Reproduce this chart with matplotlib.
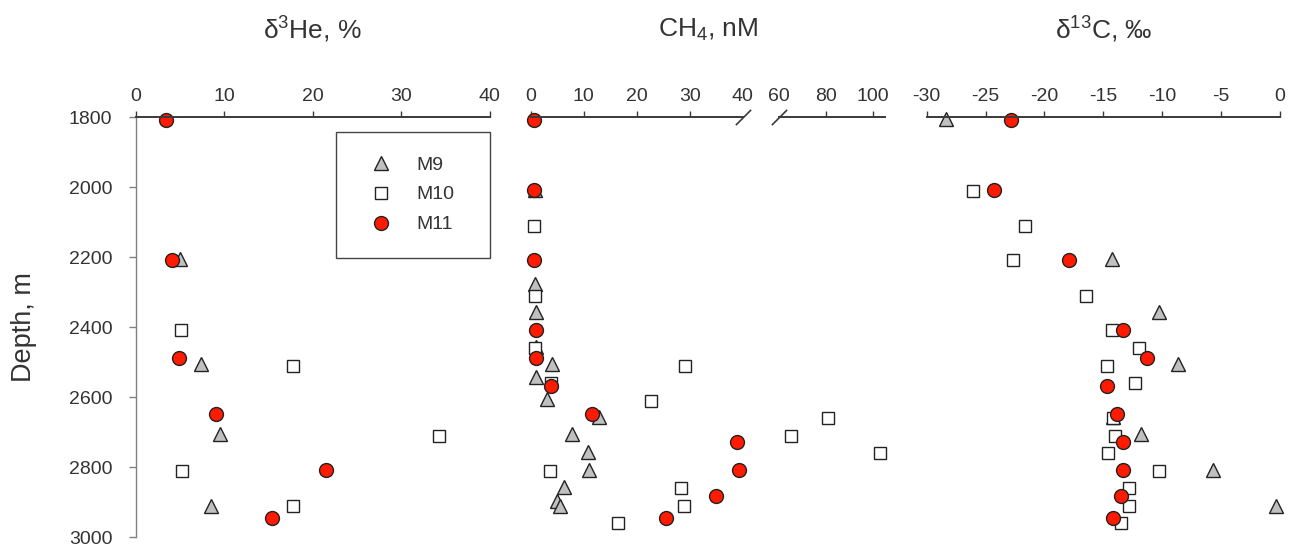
import numpy as np
import matplotlib
matplotlib.use('Agg')
import matplotlib.pyplot as plt

plt.rcParams['font.family'] = ['Liberation Sans', 'DejaVu Sans']
plt.rcParams['mathtext.fontset'] = 'custom'
plt.rcParams['mathtext.rm'] = 'Liberation Sans'
plt.rcParams['mathtext.it'] = 'Liberation Sans:italic'
plt.rcParams['mathtext.bf'] = 'Liberation Sans:bold'
plt.rcParams['axes.unicode_minus'] = False

nan = np.nan

# M9 cruise
m9_depth = [1805, 2008, 2205, 2276, 2355, 2455, 2505, 2541, 2606, 2655, 2705, 2755, 2808, 2857, 2895, 2910]
m9_he = [nan, nan, 5.0, nan, nan, nan, 7.35, nan, nan, nan, 9.5, nan, nan, nan, nan, 8.5]
m9_ch4 = [nan, 0.7, nan, 0.8, 0.9, 0.9, 4.0, 0.9, 3.0, 12.85, 7.7, 10.8, 11.0, 6.3, 5.0, 5.5]
m9_c13 = [-28.4, nan, -14.3, nan, -10.25, nan, -8.7, nan, nan, -14.2, -11.8, nan, -5.67, nan, nan, -0.35]

# M10 cruise
m10_depth = [2010, 2110, 2208, 2310, 2409, 2458, 2510, 2560, 2610, 2658, 2710, 2760, 2810, 2860, 2910, 2960]
m10_he = [nan, nan, nan, nan, 5.1, nan, 17.7, nan, nan, nan, 34.3, nan, 5.2, nan, 17.7, nan]
m10_ch4 = [nan, 0.6, nan, 0.75, nan, 0.75, 29.05, 3.7, 22.7, 80.85, 65.4, 103.1, 3.5, 28.4, 28.9, 16.4]
m10_c13 = [-26.1, -21.65, -22.7, -16.5, -14.25, -11.95, -14.7, -12.35, nan, -14.2, -14.0, -14.6, -10.3, -12.8, -12.8, -13.5]

# M11 cruise
m11_depth = [1808, 2008, 2208, 2408, 2489, 2568, 2648, 2728, 2808, 2882, 2946]
m11_he = [3.36, nan, 4.1, nan, 4.86, nan, 9.05, nan, 21.45, nan, 15.4]
m11_ch4 = [0.62, 0.62, 0.62, 0.9, 0.9, 3.8, 11.5, 38.9, 39.3, 35.0, 25.5]
m11_c13 = [-22.8, -24.3, -17.95, -13.3, -11.3, -14.7, -13.8, -13.35, -13.3, -13.5, -14.2]

depth_ticks = [1800, 2000, 2200, 2400, 2600, 2800, 3000]

styles = {
    'M9': dict(marker='^', ms=9.5, mfc='#c0c0c0'),
    'M10': dict(marker='s', ms=9, mfc='white'),
    'M11': dict(marker='o', ms=10, mfc='#ff1a00'),
}
series = [
    ('M9', m9_depth, m9_he, m9_ch4, m9_c13),
    ('M10', m10_depth, m10_he, m10_ch4, m10_c13),
    ('M11', m11_depth, m11_he, m11_ch4, m11_c13),
]

W, H = 1293, 547
fig = plt.figure(figsize=(W / 100, H / 100), dpi=100)

top_px, bot_px = 117.3, 537.3
bottom = 1 - bot_px / H
height = (bot_px - top_px) / H


def make_ax(x0, x1):
    return fig.add_axes([x0 / W, bottom, (x1 - x0) / W, height])


ax1 = make_ax(136, 489.7)
ax2a = make_ax(531, 742.5)
ax2b = make_ax(778.7, 884.5)
ax3 = make_ax(926.7, 1280)

dark = '#3a3a3a'
for ax in [ax1, ax2a, ax2b, ax3]:
    ax.set_ylim(3000, 1800)
    ax.xaxis.tick_top()
    for s in ['right', 'bottom', 'left']:
        ax.spines[s].set_visible(False)
    ax.spines['top'].set_color(dark)
    ax.spines['top'].set_linewidth(1.4)
    ax.tick_params(axis='x', direction='out', length=4.5, width=1, color=dark,
                   labelsize=14, labelcolor='#333333', pad=4.5)
    ax.set_yticks([])
    ax.patch.set_alpha(0)

ax1.spines['left'].set_visible(True)
ax1.spines['left'].set_color('#808080')
ax1.spines['left'].set_linewidth(1.0)
ax1.set_yticks(depth_ticks)
ax1.tick_params(axis='y', direction='out', length=5, width=1, color='#808080',
                labelsize=14, labelcolor='#333333', pad=12)

ax1.set_xlim(0, 40)
ax1.set_xticks([0, 10, 20, 30, 40])
ax2a.set_xlim(0, 40)
ax2a.set_xticks([0, 10, 20, 30, 40])
ax2a.xaxis.get_major_ticks()[-1].tick2line.set_visible(False)
ax2b.set_xlim(60, 105)
ax2b.set_xticks([60, 80, 100])
ax2b.xaxis.get_major_ticks()[0].tick2line.set_visible(False)
ax3.set_xlim(-30, 0)
ax3.set_xticks([-30, -25, -20, -15, -10, -5, 0])

for name, d, he, ch4, c13 in series:
    st = styles[name]
    kw = dict(ls='none', mec='#222222', mew=1.0, clip_on=False, **st)
    d = np.array(d, float)
    he = np.array(he, float)
    ch4 = np.array(ch4, float)
    c13 = np.array(c13, float)
    ax1.plot(he, d, label=name, **kw)
    lo = np.where(ch4 <= 40, ch4, nan)
    hi = np.where(ch4 >= 60, ch4, nan)
    ax2a.plot(lo, d, **kw)
    ax2b.plot(hi, d, **kw)
    ax3.plot(c13, d, **kw)

# break marks on the CH4 axis
slash = dict(marker=[(-1, -1), (1, 1)], ms=11, mew=1.2, color=dark, ls='none', clip_on=False)
ax2a.plot([1], [1], transform=ax2a.transAxes, **slash)
ax2b.plot([0], [1], transform=ax2b.transAxes, **slash)

leg_x0 = (336 - 136) / (489.7 - 136)
leg_top = 1 - (131.7 - top_px) / (bot_px - top_px)
leg = ax1.legend(loc='upper left', bbox_to_anchor=(leg_x0, leg_top - 0.3, 1 - leg_x0, 0.3),
                 mode='expand', fontsize=14,
                 frameon=True, fancybox=False, edgecolor='#444444', framealpha=1,
                 borderpad=1.25, labelspacing=0.63, handlelength=2.1,
                 handletextpad=0.8, borderaxespad=0)
leg.get_frame().set_linewidth(1.0)
for t in leg.get_texts():
    t.set_color('#333333')

ty = 1 - 30 / H
fig.text((136 + 489.7) / 2 / W, ty, 'δ$^{3}$He, %', ha='center', va='center', fontsize=19, color='#333333')
fig.text((531 + 884.5) / 2 / W, ty, 'CH$_{4}$, nM', ha='center', va='center', fontsize=19, color='#333333')
fig.text((926.7 + 1280) / 2 / W, ty, 'δ$^{13}$C, ‰', ha='center', va='center', fontsize=19, color='#333333')
fig.text(24 / W, bottom + height / 2, 'Depth, m', rotation=90, ha='center', va='center',
         fontsize=19.5, color='#333333')

fig.savefig('out.png', dpi=100)
